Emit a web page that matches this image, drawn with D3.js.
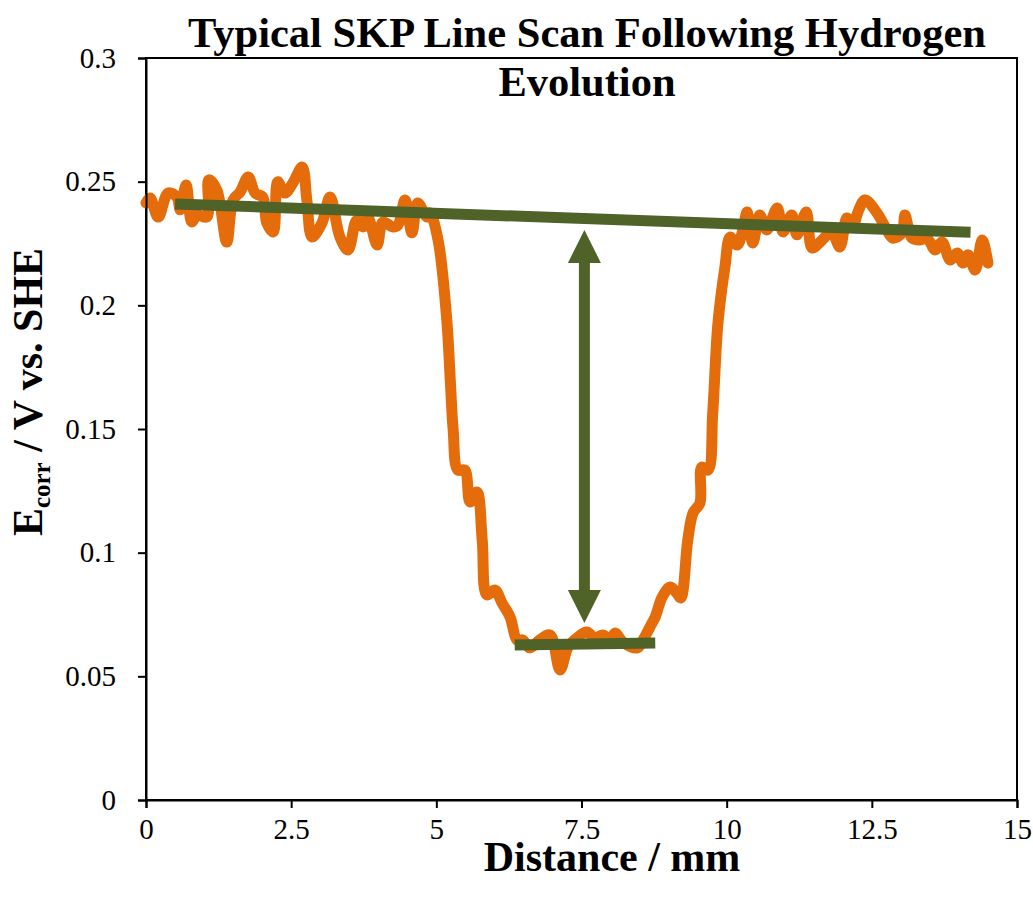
<!DOCTYPE html>
<html>
<head>
<meta charset="utf-8">
<script src="https://cdn.jsdelivr.net/npm/d3@7"></script>
<style>
    body { margin: 0; background: #fff; }
    svg { display: block; font-family: "Liberation Serif", "Times New Roman", serif; }
</style>
</head>
<body>
<div id="chart"></div>
<script>
;(function () {
    // scan data: distance in mm, Ecorr in V vs. SHE
    const distance = [
        0.0, 0.07, 0.21, 0.38, 0.53, 0.59, 0.69, 0.79, 0.88, 1.05, 1.08, 1.22, 1.39, 1.50, 1.62,
        1.76, 1.88, 2.01, 2.08, 2.19, 2.27, 2.39, 2.53, 2.69, 2.77, 2.86, 3.03, 3.17, 3.34, 3.48,
        3.63, 3.74, 3.82, 3.98, 4.08, 4.25, 4.34, 4.46, 4.58, 4.68, 4.84, 4.89, 5.03, 5.18, 5.24,
        5.29, 5.37, 5.49, 5.58, 5.70, 5.79, 5.87, 6.01, 6.13, 6.27, 6.39, 6.49, 6.61, 6.78, 6.96,
        7.13, 7.27, 7.42, 7.59, 7.73, 7.87, 7.99, 8.08, 8.21, 8.46, 8.56, 8.68, 8.77, 8.89, 9.03,
        9.14, 9.21, 9.33, 9.42, 9.54, 9.57, 9.68, 9.76, 9.85, 9.97, 10.06, 10.18, 10.28, 10.35, 10.45,
        10.57, 10.69, 10.87, 10.97, 11.12, 11.21, 11.37, 11.47, 11.61, 11.73, 11.81, 11.95, 12.07, 12.17, 12.26,
        12.38, 12.59, 12.73, 12.86, 13.02, 13.07, 13.19, 13.33, 13.45, 13.59, 13.71, 13.85, 13.97, 14.07, 14.16,
        14.28, 14.40, 14.50
    ]
    const ecorr = [
        0.2414, 0.2434, 0.2357, 0.2454, 0.2438, 0.2386, 0.2487, 0.2337, 0.2365, 0.2357, 0.2507, 0.2466, 0.2256, 0.2426, 0.2458,
        0.2519, 0.2454, 0.2438, 0.2333, 0.2297, 0.2499, 0.2454, 0.2495, 0.2559, 0.2426, 0.2276, 0.2333, 0.2438, 0.2276, 0.2224,
        0.2345, 0.2317, 0.2357, 0.2244, 0.2337, 0.2317, 0.2325, 0.2426, 0.2293, 0.2414, 0.2357, 0.2374, 0.2264, 0.1941, 0.1698,
        0.1496, 0.1334, 0.1334, 0.1205, 0.1245, 0.1051, 0.0829, 0.0849, 0.0797, 0.0740, 0.0647, 0.0647, 0.0615, 0.0647, 0.0667,
        0.0526, 0.0619, 0.0655, 0.0679, 0.0655, 0.0667, 0.0647, 0.0675, 0.0639, 0.0615, 0.0647, 0.0700, 0.0740, 0.0821, 0.0861,
        0.0837, 0.0817, 0.1051, 0.1160, 0.1201, 0.1346, 0.1334, 0.1565, 0.1929, 0.2155, 0.2276, 0.2244, 0.2305, 0.2377, 0.2252,
        0.2365, 0.2305, 0.2394, 0.2297, 0.2365, 0.2285, 0.2377, 0.2232, 0.2256, 0.2285, 0.2297, 0.2236, 0.2353, 0.2317, 0.2377,
        0.2426, 0.2373, 0.2317, 0.2272, 0.2293, 0.2365, 0.2272, 0.2264, 0.2272, 0.2224, 0.2256, 0.2183, 0.2212, 0.2171, 0.2204,
        0.2143, 0.2264, 0.2171
    ]

    // green guide lines (baseline and pit floor)
    const baselineX = [0.5, 14.2]
    const baselineY = [0.241, 0.2295]
    const floorX = [6.35, 8.77]
    const floorY = [0.0627, 0.0635]

    // double arrow showing the potential drop
    const arrowX = 7.55
    const arrowTop = 0.2305
    const arrowBottom = 0.0716

    const xTicks = [0, 2.5, 5, 7.5, 10, 12.5, 15]
    const yTicks = [0, 0.05, 0.1, 0.15, 0.2, 0.25, 0.3]

    const width = 1033
    const height = 897
    const margin = { top: 58, right: 16, bottom: 97, left: 146 }
    const chartWidth = width - margin.left - margin.right
    const chartHeight = height - margin.top - margin.bottom

    const orange = "#E46C0A"
    const green = "#4F6228"

    const xPositionScale = d3.scaleLinear().domain([0, 15]).range([0, chartWidth])
    const yPositionScale = d3.scaleLinear().domain([0, 0.3]).range([chartHeight, 0])

    const svg = d3.select("#chart")
        .append("svg")
        .attr("width", width)
        .attr("height", height)

    const g = svg.append("g")
        .attr("transform", `translate(${margin.left},${margin.top})`)

    // plot frame
    g.append("rect")
        .attr("width", chartWidth)
        .attr("height", chartHeight)
        .attr("fill", "none")
        .attr("stroke", "#000")
        .attr("stroke-width", 2)

    const line = d3.line()
        .x(d => xPositionScale(d[0]))
        .y(d => yPositionScale(d[1]))
        .curve(d3.curveCatmullRom.alpha(0.5))

    g.append("path")
        .datum(d3.zip(distance, ecorr))
        .attr("fill", "none")
        .attr("stroke", orange)
        .attr("stroke-width", 11)
        .attr("stroke-linejoin", "round")
        .attr("stroke-linecap", "round")
        .attr("d", line)

    const straight = d3.line()
        .x(d => xPositionScale(d[0]))
        .y(d => yPositionScale(d[1]))

    g.selectAll(".guide")
        .data([d3.zip(baselineX, baselineY), d3.zip(floorX, floorY)])
        .enter()
        .append("path")
        .attr("class", "guide")
        .attr("fill", "none")
        .attr("stroke", green)
        .attr("stroke-width", 11)
        .attr("d", straight)

    // arrow: shaft + two heads
    const ax = xPositionScale(arrowX)
    const yTop = yPositionScale(arrowTop)
    const yBot = yPositionScale(arrowBottom)
    const head = 33
    const halfHead = 16.5

    g.append("line")
        .attr("x1", ax)
        .attr("x2", ax)
        .attr("y1", yTop + head - 2)
        .attr("y2", yBot - head + 2)
        .attr("stroke", green)
        .attr("stroke-width", 11)

    g.append("path")
        .attr("fill", green)
        .attr("d", `M${ax},${yTop} L${ax + halfHead},${yTop + head} L${ax - halfHead},${yTop + head} Z`)

    g.append("path")
        .attr("fill", green)
        .attr("d", `M${ax},${yBot} L${ax + halfHead},${yBot - head} L${ax - halfHead},${yBot - head} Z`)

    // axes
    const xAxisGenerator = d3.axisBottom(xPositionScale)
        .tickValues(xTicks)
        .tickSize(8)
        .tickFormat(d => String(d))
    const xAxis = g.append("g")
        .attr("class", "axis x-axis")
        .attr("transform", `translate(0,${chartHeight})`)
        .call(xAxisGenerator)
    xAxis.select(".domain").attr("stroke-width", 2)
    xAxis.selectAll(".tick line").attr("stroke-width", 2)
    xAxis.selectAll(".tick text")
        .attr("y", 39)
        .attr("dy", null)
        .attr("font-size", 29)
        .attr("font-family", "Liberation Serif, serif")

    const yAxisGenerator = d3.axisLeft(yPositionScale)
        .tickValues(yTicks)
        .tickSize(8)
        .tickPadding(22)
        .tickFormat(d => String(d))
    const yAxis = g.append("g")
        .attr("class", "axis y-axis")
        .call(yAxisGenerator)
    yAxis.select(".domain").attr("stroke-width", 2)
    yAxis.selectAll(".tick line").attr("stroke-width", 2)
    yAxis.selectAll(".tick text")
        .attr("font-size", 29)
        .attr("font-family", "Liberation Serif, serif")

    // title
    const title = svg.append("text")
        .attr("text-anchor", "middle")
        .attr("font-size", 42.5)
        .attr("font-weight", "bold")
    title.append("tspan").attr("x", 587).attr("y", 47).text("Typical SKP Line Scan Following Hydrogen")
    title.append("tspan").attr("x", 587).attr("y", 96).text("Evolution")

    // axis titles
    svg.append("text")
        .attr("x", 612)
        .attr("y", 871)
        .attr("text-anchor", "middle")
        .attr("font-size", 42)
        .attr("font-weight", "bold")
        .text("Distance / mm")

    const yTitle = svg.append("text")
        .attr("transform", "translate(42,392) rotate(-90)")
        .attr("text-anchor", "middle")
        .attr("font-size", 42)
        .attr("font-weight", "bold")
    yTitle.append("tspan").text("E")
    yTitle.append("tspan").attr("font-size", 25).attr("dy", 8).text("corr")
    yTitle.append("tspan").attr("dy", -8).text(" / V vs. SHE")
})()
</script>
</body>
</html>
